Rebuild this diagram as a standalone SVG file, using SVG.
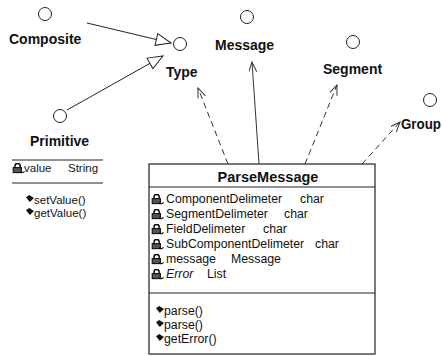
<svg xmlns="http://www.w3.org/2000/svg" width="442" height="356" viewBox="0 0 442 356">
<style>
  .lbl{font-family:"Liberation Sans",Arial,sans-serif;font-size:14px;font-weight:bold;fill:#111}
  .title{font-family:"Liberation Sans",Arial,sans-serif;font-size:14.5px;font-weight:bold;fill:#111}
  .mem{font-family:"Liberation Sans",Arial,sans-serif;font-size:12.3px;fill:#111}
  .pm{font-family:"Liberation Sans",Arial,sans-serif;font-size:11.5px;fill:#111}
  .circ{fill:#fff;stroke:#222;stroke-width:1}
  .box{fill:#fff;stroke:#222;stroke-width:1.2}
  .sep{stroke:#222;stroke-width:1.2}
  .gen{fill:none;stroke:#222;stroke-width:1}
  .dep{fill:none;stroke:#333;stroke-width:1;stroke-dasharray:6,4}
  .sol{fill:none;stroke:#333;stroke-width:1}
</style>
<defs>
  <marker id="tri" markerUnits="userSpaceOnUse" markerWidth="18" markerHeight="14" refX="16" refY="6.5" orient="auto">
    <path d="M1,0.5 L16,6.5 L1,12.5 Z" fill="#fff" stroke="#222" stroke-width="1"/>
  </marker>
  <marker id="open" markerUnits="userSpaceOnUse" markerWidth="12" markerHeight="10" refX="10" refY="4" orient="auto">
    <path d="M0,0 L10,4 L0,8" fill="none" stroke="#333" stroke-width="1"/>
  </marker>
  <symbol id="attr" viewBox="0 0 13 11" width="13" height="11">
    <path d="M3,5 V3 A2.6,2.6 0 0 1 8.2,3 V5" fill="none" stroke="#111" stroke-width="1.5"/>
    <rect x="1.2" y="4.6" width="8.2" height="5" fill="#555" stroke="#111" stroke-width="1.1"/>
    <path d="M8,8.5 Q10.5,10.8 12.6,8.3" fill="none" stroke="#111" stroke-width="1.3"/>
  </symbol>
  <symbol id="meth" viewBox="0 0 8 7" width="8" height="7">
    <polygon points="0,2.2 3.2,0 8,3 3.8,7" fill="#111"/>
  </symbol>
</defs>

<g id="connectors">
  <line class="gen" x1="87" y1="23" x2="171" y2="43" marker-end="url(#tri)"/>
  <line class="gen" x1="67" y1="110" x2="163" y2="56" marker-end="url(#tri)"/>
  <line class="dep" x1="228" y1="164" x2="198" y2="88" marker-end="url(#open)"/>
  <line class="sol" x1="259" y1="164" x2="252" y2="62" marker-end="url(#open)"/>
  <line class="dep" x1="305" y1="164" x2="337" y2="85" marker-end="url(#open)"/>
  <line class="dep" x1="362" y1="164" x2="400" y2="122" marker-end="url(#open)"/>
</g>

<g id="Composite">
  <circle class="circ" cx="45" cy="14" r="6.5"/>
  <text class="lbl" x="9" y="44">Composite</text>
</g>

<g id="Type">
  <circle class="circ" cx="180" cy="44" r="6.5"/>
  <text class="lbl" x="166" y="77">Type</text>
</g>

<g id="Message">
  <circle class="circ" cx="247" cy="17" r="6.5"/>
  <text class="lbl" x="215" y="50">Message</text>
</g>

<g id="Segment">
  <circle class="circ" cx="353" cy="42" r="6.5"/>
  <text class="lbl" x="323" y="74">Segment</text>
</g>

<g id="Group">
  <circle class="circ" cx="430" cy="100" r="6.5"/>
  <text class="lbl" x="401" y="129" font-size="13" textLength="40" lengthAdjust="spacingAndGlyphs">Group</text>
</g>

<g id="Primitive">
  <circle class="circ" cx="60" cy="116" r="6.5"/>
  <text class="lbl" x="30" y="146">Primitive</text>
  <line class="sep" x1="12" y1="160" x2="103" y2="160"/>
  <use href="#attr" x="12" y="163"/>
  <text class="pm" x="24" y="172">value</text>
  <text class="pm" x="68" y="172">String</text>
  <line class="sep" x1="12" y1="183" x2="103" y2="183"/>
  <use href="#meth" x="26" y="195"/>
  <text class="pm" x="34" y="204">setValue()</text>
  <use href="#meth" x="26" y="208"/>
  <text class="pm" x="34" y="217">getValue()</text>
</g>

<g id="ParseMessage">
  <rect class="box" x="149" y="164" width="226" height="190"/>
  <text class="title" x="268" y="182" text-anchor="middle">ParseMessage</text>
  <line class="sep" x1="149" y1="187" x2="375" y2="187"/>
  <use href="#attr" x="151" y="194"/>
  <text class="mem" x="166" y="203">ComponentDelimeter</text>
  <text class="mem" x="300" y="203">char</text>
  <use href="#attr" x="151" y="209"/>
  <text class="mem" x="166" y="218">SegmentDelimeter</text>
  <text class="mem" x="284" y="218">char</text>
  <use href="#attr" x="151" y="224"/>
  <text class="mem" x="166" y="233">FieldDelimeter</text>
  <text class="mem" x="263" y="233">char</text>
  <use href="#attr" x="151" y="239"/>
  <text class="mem" x="166" y="248">SubComponentDelimeter</text>
  <text class="mem" x="315" y="248">char</text>
  <use href="#attr" x="151" y="254"/>
  <text class="mem" x="166" y="263">message</text>
  <text class="mem" x="231" y="263">Message</text>
  <use href="#attr" x="151" y="269"/>
  <text class="mem" x="166" y="278" font-style="italic">Error</text>
  <text class="mem" x="207" y="278">List</text>
  <line class="sep" x1="149" y1="293" x2="375" y2="293"/>
  <use href="#meth" x="156" y="306"/>
  <text class="mem" x="164" y="315">parse()</text>
  <use href="#meth" x="156" y="320"/>
  <text class="mem" x="164" y="329">parse()</text>
  <use href="#meth" x="156" y="334"/>
  <text class="mem" x="164" y="343">getError()</text>
</g>
</svg>
